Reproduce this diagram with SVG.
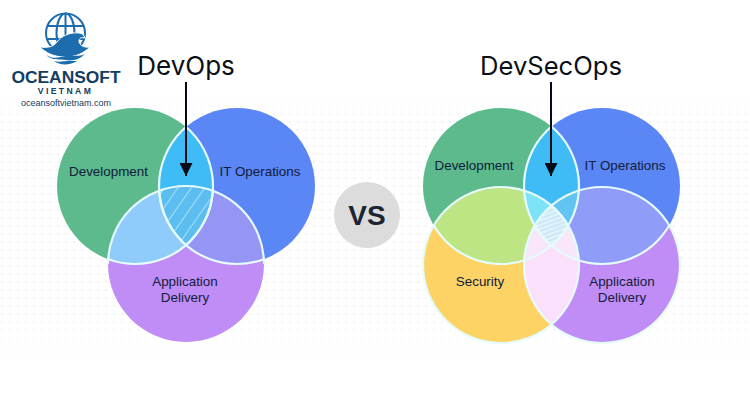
<svg xmlns="http://www.w3.org/2000/svg" width="750" height="407" viewBox="0 0 750 407">
<style>
.lbl{font-family:"Liberation Sans",Arial,sans-serif;font-size:13.4px;fill:#10203a;text-anchor:middle}
.ttl{font-family:"Inter","Liberation Sans",sans-serif;fill:#0a0f18;text-anchor:middle}
.edge{fill:none;stroke:#e6fbfb;stroke-width:2.2}
.hatch{stroke:#cdeffb;stroke-width:1.4}
.arrow{stroke:#050a18;stroke-width:2;fill:none;marker-end:url(#ah)}
.logo{font-family:"Liberation Sans",sans-serif;fill:#123d63;text-anchor:middle}
</style>
<defs>
<marker id="ah" viewBox="0 0 13 13" refX="13" refY="6.5" markerWidth="13" markerHeight="13" markerUnits="userSpaceOnUse" orient="auto"><path d="M0 0L13 6.5L0 13Z" fill="#050a18"/></marker>
<pattern id="dots" width="8" height="8" patternUnits="userSpaceOnUse"><circle cx="2" cy="2" r="0.8" fill="#dfe1e4"/></pattern>
<linearGradient id="fade" x1="0" y1="0" x2="0" y2="1"><stop offset="0" stop-color="#000"/><stop offset="0.12" stop-color="#fff"/><stop offset="0.8" stop-color="#fff"/><stop offset="1" stop-color="#000"/></linearGradient>
<mask id="dm" maskUnits="userSpaceOnUse" x="0" y="85" width="750" height="290"><rect x="0" y="85" width="750" height="290" fill="url(#fade)"/></mask>
<pattern id="hl" width="11" height="11" patternUnits="userSpaceOnUse" patternTransform="rotate(35)"><line x1="0" y1="0" x2="0" y2="11" class="hatch"/></pattern>
<pattern id="hr" width="4" height="4" patternUnits="userSpaceOnUse" patternTransform="rotate(-20)"><line x1="0" y1="2" x2="4" y2="2" stroke="#b9e2f4" stroke-width="1.2"/></pattern>
<clipPath id="cD"><circle cx="135" cy="186" r="78"/></clipPath>
<clipPath id="cI"><circle cx="237" cy="186" r="78"/></clipPath>
<clipPath id="cA"><circle cx="186" cy="264" r="78"/></clipPath>
<clipPath id="cDI"><circle cx="135" cy="186" r="78" clip-path="url(#cI)"/></clipPath>
<clipPath id="rD"><circle cx="501" cy="186" r="78"/></clipPath>
<clipPath id="rI"><circle cx="602" cy="186" r="78"/></clipPath>
<clipPath id="rS"><circle cx="501" cy="265" r="78"/></clipPath>
<clipPath id="rA"><circle cx="602" cy="265" r="78"/></clipPath>
<clipPath id="rDI"><circle cx="501" cy="186" r="78" clip-path="url(#rI)"/></clipPath>
<clipPath id="rSA"><circle cx="501" cy="265" r="78" clip-path="url(#rA)"/></clipPath>
</defs>
<rect width="750" height="407" fill="#fff"/>
<rect x="0" y="85" width="750" height="290" fill="url(#dots)" mask="url(#dm)"/>

<g id="logo">
<g fill="none" stroke="#1c6cae" stroke-width="2">
<circle cx="65.5" cy="33" r="19.5"/><ellipse cx="65.5" cy="33" rx="9" ry="19.5"/><path d="M65.5 13.5V50M47 26H84M46 39H85"/>
</g>
<path d="M40 47C48 48 53 47 57 42C61 36 70 32 79 33C82 33 84 35 85 38C82 37 79 38 79 41C79 45 84 48 90 47C84 53 76 57 65 57C54 57 46 53 40 47Z" fill="#1c6cae" stroke="#fff" stroke-width="1"/>
<path d="M46 55C54 60 60 57 66 56C73 55 79 57 85 54C79 60 73 61 66 60C59 59 53 61 46 55Z" fill="#1c6cae"/>
<path d="M54 61C60 63 66 60 72 61L77 61C71 65 60 66 54 61Z" fill="#1c6cae"/>
<text class="logo" x="66" y="83" font-size="17.4" font-weight="700">OCEANSOFT</text>
<text class="logo" x="65.5" y="94" font-size="8.6" font-weight="700" letter-spacing="2.4">VIETNAM</text>
<text class="logo" x="66" y="106" font-size="9">oceansoftvietnam.com</text>
</g>

<g id="devops">
<g id="dev"><circle cx="135" cy="186" r="78" fill="#5cba8c"/></g>
<g id="itops"><circle cx="237" cy="186" r="78" fill="#5b86f5"/></g>
<g id="appdel"><circle cx="186" cy="264" r="78" fill="#c08cf5"/></g>
<circle cx="237" cy="186" r="78" fill="#3fbcf5" clip-path="url(#cD)"/>
<circle cx="186" cy="264" r="78" fill="#8fcbfb" clip-path="url(#cD)"/>
<circle cx="186" cy="264" r="78" fill="#9595f5" clip-path="url(#cI)"/>
<circle cx="186" cy="264" r="78" fill="#5cbdf0" clip-path="url(#cDI)"/>
<circle cx="186" cy="264" r="78" fill="url(#hl)" clip-path="url(#cDI)"/>
<path class="edge" d="M108 264a78 78 0 0 1 156 0"/>
<circle class="edge" cx="135" cy="186" r="78" clip-path="url(#cI)"/>
<circle class="edge" cx="237" cy="186" r="78" clip-path="url(#cD)"/>
<circle class="edge" cx="135" cy="186" r="78" clip-path="url(#cA)"/>
<circle class="edge" cx="237" cy="186" r="78" clip-path="url(#cA)"/>
<text class="lbl" x="108.500" y="176">Development</text>
<text class="lbl" x="260" y="176">IT Operations</text>
<text class="lbl" x="185" y="286">Application</text>
<text class="lbl" x="185" y="302">Delivery</text>
<text class="ttl" x="186" y="75" font-size="26">DevOps</text>
</g>

<g id="vs">
<circle cx="367" cy="215" r="33" fill="#dcdcdc"/>
<text x="367" y="225" font-family="'Liberation Sans',sans-serif" font-size="28" font-weight="700" fill="#1b2533" text-anchor="middle">VS</text>
</g>

<g id="devsecops">
<g id="rdev"><circle cx="501" cy="186" r="78" fill="#5cba8c"/></g>
<g id="rit"><circle cx="602" cy="186" r="78" fill="#5b86f5"/></g>
<g id="rsec"><circle cx="501" cy="265" r="78" fill="#fdd365"/></g>
<g id="rapp"><circle cx="602" cy="265" r="78" fill="#c08cf5"/></g>
<circle cx="602" cy="186" r="78" fill="#3fbcf5" clip-path="url(#rD)"/>
<circle cx="501" cy="265" r="78" fill="#bde584" clip-path="url(#rD)"/>
<circle cx="602" cy="265" r="78" fill="#8f9cf8" clip-path="url(#rI)"/>
<circle cx="501" cy="265" r="78" fill="#fbe0fb" clip-path="url(#rA)"/>
<circle cx="501" cy="265" r="78" fill="#7fe3f8" clip-path="url(#rDI)"/>
<circle cx="602" cy="265" r="78" fill="#62c4f2" clip-path="url(#rDI)"/>
<circle cx="602" cy="186" r="78" fill="#f8e6fb" clip-path="url(#rSA)"/>
<circle cx="501" cy="186" r="78" fill="#f8e6fb" clip-path="url(#rSA)"/>
<g clip-path="url(#rDI)"><circle cx="501" cy="265" r="78" fill="#e4f3fa" clip-path="url(#rA)"/><circle cx="501" cy="265" r="78" fill="url(#hr)" clip-path="url(#rA)"/></g>
<circle class="edge" cx="501" cy="186" r="78" clip-path="url(#rI)"/>
<circle class="edge" cx="602" cy="186" r="78" clip-path="url(#rD)"/>
<circle class="edge" cx="501" cy="265" r="78"/>
<circle class="edge" cx="602" cy="265" r="78"/>
<circle class="edge" cx="501" cy="186" r="78" clip-path="url(#rS)"/>
<circle class="edge" cx="602" cy="186" r="78" clip-path="url(#rA)"/>
<text class="lbl" x="474" y="170">Development</text>
<text class="lbl" x="625" y="170">IT Operations</text>
<text class="lbl" x="480" y="286">Security</text>
<text class="lbl" x="622" y="286">Application</text>
<text class="lbl" x="622" y="302">Delivery</text>
<text class="ttl" x="551" y="75" font-size="25.6">DevSecOps</text>
</g>

<g id="connectors">
<line class="arrow" x1="186" y1="82" x2="186" y2="176"/>
<line class="arrow" x1="551" y1="82" x2="551" y2="176"/>
</g>
</svg>
